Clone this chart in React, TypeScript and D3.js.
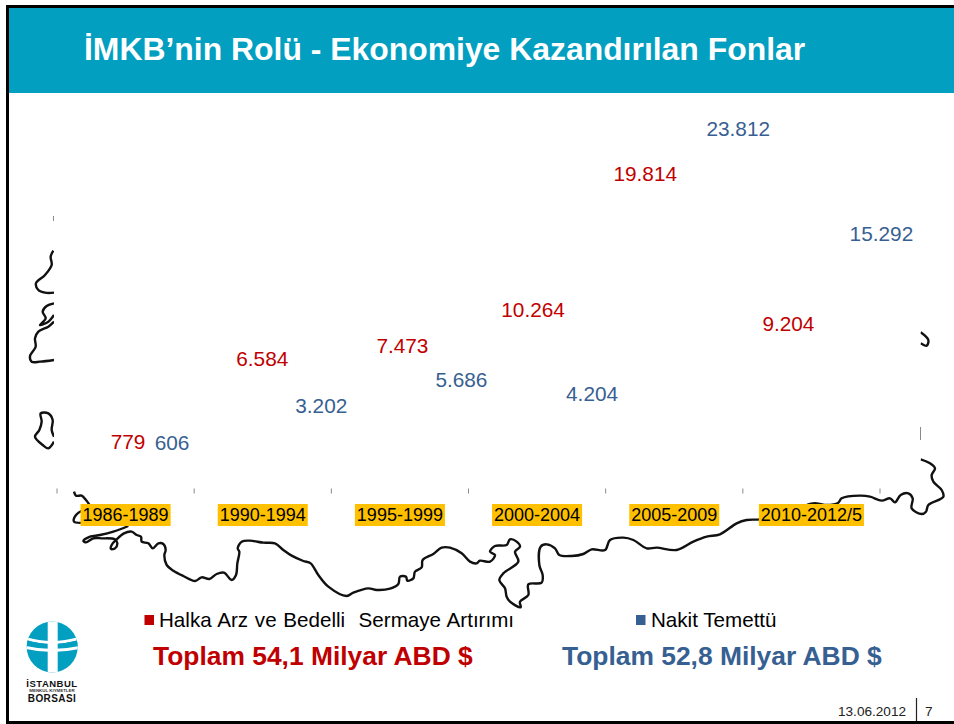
import React from "react";
import * as d3 from "d3";

const W = 954, H = 724;
const FONT = "'Liberation Sans', Arial, sans-serif";
const TEAL = "#029FC1", RED = "#C00000", BLUE = "#376092", AMBER = "#FFC000", TICK = "#8a8a8a";

const categories = ["1986-1989", "1990-1994", "1995-1999", "2000-2004", "2005-2009", "2010-2012/5"];
const halkaArz = [779, 6584, 7473, 10264, 19814, 9204];
const nakitTemettu = [606, 3202, 5686, 4204, 23812, 15292];

// Hand placed label offsets from the bar position, as on the slide
const redDx = [2.5, -0.5, 2.5, -4, -29, -23];
const redDy = [1.5, -3, -4, -3, -9, -2.5];
const blueDx = [46.5, 58.5, 61.5, 55, 64, 70];
const blueDy = [0, -2, 5, -1, 0, -10.5];

// Decorative backdrop: outline of Turkey, traced in zoomed px
type P = [number, number];
const z1 = (p: P[]): P[] => p.map(([x, y]) => [x / 3, y / 3 + 480]);
const z2 = (p: P[]): P[] => p.map(([x, y]) => [x / 3 + 480, y / 3 + 440]);
const z3 = (p: P[]): P[] => p.map(([x, y]) => [x / 3, y / 3 + 200]);
const z4 = (p: P[]): P[] => p.map(([x, y]) => [x / 3 + 880, y / 3 + 300]);

const coastSouth: P[] = [
  ...z1([[385,138],[340,155],[300,165],[270,170],[250,183],[258,187],[280,175],[305,175],[345,178],[352,190],[345,205],[333,207],[335,195],[350,178],[372,160],[395,155],[410,165],[423,170],[425,185],[445,190],[458,205],[475,190],[490,192],[497,210],[493,225],[500,255],[520,272],[550,288],[585,303],[605,292],[628,297],[650,282],[672,278],[695,300],[708,285],[712,250],[718,215],[713,205],[725,185],[750,182],[790,188],[825,190],[850,210],[875,227],[910,243],[932,250],[955,285],[985,320],[1040,348],[1060,338],[1105,325],[1130,330],[1170,326],[1195,312],[1200,290],[1218,290],[1222,302],[1240,295],[1245,275],[1265,262],[1268,240],[1300,222],[1325,203],[1350,203],[1385,220],[1410,245],[1430,250]]),
  ...z2([[0,362],[30,365],[45,345],[30,335],[45,318],[80,315],[90,298],[110,305],[120,320],[105,335],[115,365],[70,400],[58,420],[75,445],[80,470],[90,485],[122,502],[120,485],[145,465],[145,433],[185,428],[188,405],[178,375],[182,320],[200,313],[225,325],[238,345],[275,348],[310,342],[335,328],[375,330],[390,300],[430,293],[460,300],[500,325],[530,323],[590,330],[640,305],[680,290],[720,283],[770,250],[800,240],[840,238],[900,225],[960,205],[990,192],[1010,190],[1040,195],[1075,188],[1085,175],[1140,167],[1170,170],[1205,182],[1230,175],[1245,187],[1262,165],[1285,160],[1298,175],[1295,205],[1325,222],[1338,215],[1345,195],[1390,170],[1385,150],[1360,125],[1355,105],[1365,85],[1350,70],[1322,58]]),
];
const thraceTop: P[] = z1([[222,35],[228,47],[245,47],[258,60],[268,74]]);
const thraceLeft: P[] = z1([[250,90],[228,105],[222,125],[250,128]]);
const leftA: P[] = z3([[160,152],[152,170],[155,195],[135,225],[108,250],[115,270],[135,278],[162,278]]);
const leftB: P[] = z3([[162,310],[140,318],[128,335],[137,355],[120,375],[145,365],[162,345]]);
const leftC: P[] = z3([[162,365],[145,380],[115,395],[105,415],[107,440],[90,468],[95,485],[120,485],[162,480]]);
const leftD: P[] = z3([[162,710],[155,690],[158,660],[145,640],[122,640],[125,665],[118,690],[105,710],[128,735],[145,745],[162,725]]);
const rightIsland: P[] = z4([[122,97],[145,120],[140,137],[122,130]]);
const outlines = [coastSouth, thraceTop, thraceLeft, leftA, leftB, leftC, leftD, rightIsland];

const digitWidth = (s: string) =>
  d3.sum(Array.from(s), (c) => (c === "-" ? 0.333 : c === "/" ? 0.278 : 0.556));

const fmt = d3.formatLocale({ decimal: ",", thousands: ".", grouping: [3], currency: ["", ""] }).format(",d");

export default function App() {
  const x = d3.scaleBand<string>().domain(categories).range([57, 880]);
  const y = d3.scaleLinear().domain([0, 25000]).range([451, 112.75]);
  const coast = d3.line<P>().curve(d3.curveCatmullRom.alpha(0.5));
  const edges = [...categories.map((c) => x(c)!), x.range()[1]];
  const center = (c: string) => x(c)! + x.bandwidth() / 2;

  return (
    <svg width={W} height={H} style={{ position: "absolute", left: 0, top: 0, background: "#fff", fontFamily: FONT }}>
      {/* slide frame & header */}
      <rect x={9} y={8} width={W} height={85} fill={TEAL} />
      <text x={84} y={59.5} fill="#fff" fontWeight="bold" fontSize={31.9}>İMKB’nin Rolü - Ekonomiye Kazandırılan Fonlar</text>

      {/* map */}
      <g fill="none" stroke="#111" strokeWidth={2.4} strokeLinejoin="round">
        {outlines.map((o, i) => <path key={i} d={coast(o)!} />)}
      </g>

      {/* plot area mask */}
      <rect x={54} y={100} width={866.5} height={391} fill="#fff" />

      {/* axis ticks */}
      <g stroke={TICK} strokeWidth={1}>
        {edges.map((e, i) => <line key={i} x1={e} x2={e} y1={488.5} y2={493.5} />)}
        <line x1={53.5} x2={53.5} y1={216} y2={221} />
        <line x1={920.5} x2={920.5} y1={427} y2={440} />
      </g>

      {/* category labels */}
      {categories.map((c) => {
        const w = digitWidth(c) * 18 + 4;
        return (
          <g key={c}>
            <rect x={center(c) - w / 2} y={504} width={w} height={22} fill={AMBER} />
            <text x={center(c)} y={521} textAnchor="middle" fontSize={18} fill="#000">{c}</text>
          </g>
        );
      })}

      {/* data labels */}
      {categories.map((c, i) => (
        <g key={c} fontSize={20.8} textAnchor="middle" dominantBaseline="central">
          <text x={center(c) + redDx[i]} y={y(halkaArz[i]) + redDy[i]} fill={RED}>{fmt(halkaArz[i])}</text>
          <text x={center(c) + blueDx[i]} y={y(nakitTemettu[i]) + blueDy[i]} fill={BLUE}>{fmt(nakitTemettu[i])}</text>
        </g>
      ))}

      {/* legend */}
      <rect x={144.5} y={615} width={9.5} height={10} fill={RED} />
      <text x={159} y={627} fontSize={20.6} fill="#000" wordSpacing={1} style={{ whiteSpace: "pre" }}>Halka Arz ve Bedelli  Sermaye Artırımı</text>
      <rect x={636} y={615} width={9.5} height={10} fill={BLUE} />
      <text x={651} y={627} fontSize={20.6} fill="#000">Nakit Temettü</text>

      {/* totals */}
      <text x={153} y={665} fontSize={26.4} fontWeight="bold" fill={RED}>Toplam 54,1 Milyar ABD $</text>
      <text x={562} y={665} fontSize={26.4} fontWeight="bold" fill={BLUE}>Toplam 52,8 Milyar ABD $</text>

      {/* logo */}
      <g>
        <clipPath id="logoClip"><circle cx={52.2} cy={647} r={25.5} /></clipPath>
        <g clipPath="url(#logoClip)">
          <rect x={26} y={621} width={53} height={53} fill={TEAL} />
          <rect x={47.7} y={621} width={10} height={53} fill="#fff" />
          <path d="M26,637 Q52,645 79,637 L79,640 Q52,648 26,640 Z" fill="#fff" />
          <path d="M26,640 Q52,648 79,640 L79,646 Q52,652 26,646 Z" fill={TEAL} />
          <path d="M26,646 Q52,652 79,646 L79,649 Q52,655 26,649 Z" fill="#fff" />
          <rect x={47.7} y={643} width={10} height={6} fill="#fff" />
        </g>
        <text x={52} y={686.5} textAnchor="middle" fontSize={9.5} fontWeight="bold" fill="#111" letterSpacing={0.5}>İSTANBUL</text>
        <text x={52} y={691.5} textAnchor="middle" fontSize={4.4} fontWeight="bold" fill="#333">MENKUL KIYMETLER</text>
        <text x={52} y={701.5} textAnchor="middle" fontSize={10} fontWeight="bold" fill="#111" letterSpacing={0.4}>BORSASI</text>
      </g>

      {/* footer */}
      <text x={838} y={716} fontSize={13.6} fill="#222">13.06.2012</text>
      <line x1={916.5} x2={916.5} y1={698} y2={721} stroke="#222" strokeWidth={1.2} />
      <text x={925} y={716} fontSize={13.6} fill="#222">7</text>

      {/* frame */}
      <path d={`M${W + 4},6.5 H7.5 V722.5 H${W + 4}`} fill="none" stroke="#000" strokeWidth={3} />
    </svg>
  );
}
